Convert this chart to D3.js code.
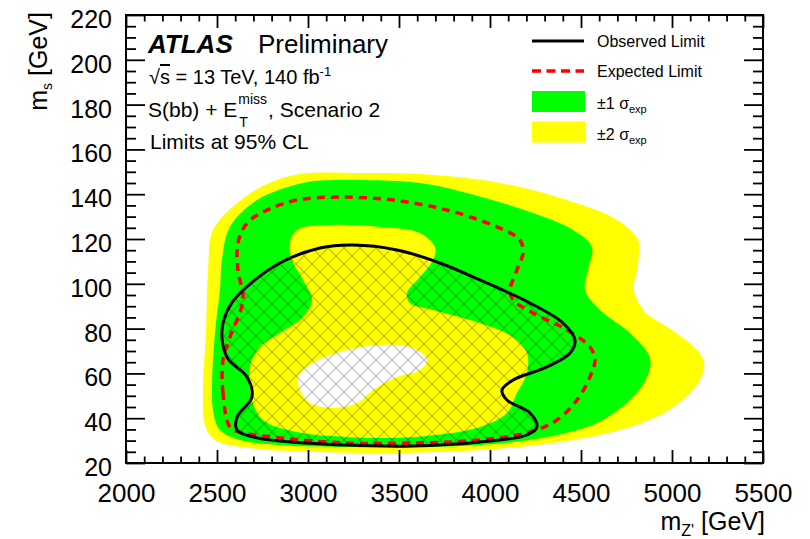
<!DOCTYPE html>
<html lang="en">
  <head>
    <meta charset="utf-8">
    <script src="https://d3js.org/d3.v7.min.js"></script>
    <title>S(bb) + MET limits, Scenario 2</title>
    <style>
      body {
        margin: 0;
        background-color: #ffffff;
      }
      svg {
        display: block;
        font-family: "Liberation Sans", Arial, Helvetica, sans-serif;
      }
      .axis line {
        stroke: #000;
        stroke-width: 1.8;
      }
      .axis text {
        fill: #000;
      }
    </style>
  </head>
  <body>
    <div class="chartHolder"></div>
    <script>
      // contours, [mZ' GeV, mS GeV]
      const band2Outer = [
        [2955, 149], [3285, 149.5], [3615, 149], [4055, 145], [4423, 137.4], [4698, 128.5],
        [4813, 119.5], [4813, 108.4], [4791, 97.2], [4852, 87.4], [5000, 79.4], [5126, 71.3],
        [5176, 65.1], [5154, 57], [5071, 49], [4934, 41.4], [4714, 34.7], [4385, 29.4],
        [3945, 25.8], [3505, 24.5], [3066, 24.9], [2681, 26.7], [2489, 30.3], [2434, 37],
        [2423, 52.6], [2440, 79.4], [2451, 106.2], [2478, 124], [2599, 135.2], [2764, 144.1]
      ];
      const band1Outer = [
        [2973, 145], [3176, 146.3], [3615, 145], [3874, 140.5], [4236, 131.6], [4456, 124],
        [4560, 116.4], [4538, 106.2], [4522, 97.2], [4604, 88.3], [4769, 78], [4879, 66.9],
        [4863, 58.4], [4769, 48.1], [4588, 37.9], [4313, 31.6], [3945, 28], [3577, 27.1],
        [3214, 27.1], [2846, 28], [2626, 30.3], [2516, 34.7], [2478, 43.7], [2473, 55.7],
        [2489, 78], [2516, 97.2], [2527, 110.6], [2571, 125.4], [2720, 137.4]
      ];
      const band1Inner = [
        [2901, 118.2], [2940, 124], [3121, 126.2], [3396, 125.4], [3615, 122.7], [3698, 116.4],
        [3687, 110.6], [3615, 103], [3544, 95.9], [3560, 91.4], [3687, 88.3], [3945, 82.5],
        [4126, 76.2], [4203, 69.1], [4203, 60.2], [4148, 51.2], [4093, 42.3], [3945, 36.1],
        [3577, 31.6], [3214, 31.6], [2940, 33.8], [2753, 39.2], [2692, 48.1], [2681, 62.9],
        [2736, 71.8], [2846, 78], [2973, 85.2], [3022, 92.8], [2973, 101.7], [2912, 110.6]
      ];
      const band2Inner = [
        [2956, 52.6], [2945, 58.4], [3027, 64.6], [3214, 70.4], [3396, 72.7], [3577, 71.3],
        [3654, 66], [3615, 61.5], [3489, 58.4], [3357, 52.6], [3269, 46.8], [3137, 44.6],
        [3011, 46.8]
      ];
      const expectedLimit = [
        [2571, 36.1], [2533, 51.2], [2533, 66], [2571, 76.2], [2643, 92.8], [2615, 106.2],
        [2615, 118.2], [2665, 127.1], [2775, 132.9], [2940, 137.4], [3176, 138.7], [3467, 137.4],
        [3764, 132.9], [4038, 125.4], [4165, 119.5], [4181, 113.7], [4148, 106.2], [4110, 97.2],
        [4126, 92.8], [4236, 87], [4423, 79.4], [4549, 71.8], [4577, 66], [4549, 58.4],
        [4478, 48.1], [4368, 39.2], [4220, 33.8], [3945, 30.3], [3577, 28.9], [3214, 28.9],
        [2846, 31.2], [2626, 33.8]
      ];
      const observedLimit = [
        [2527, 76], [2538, 84], [2590, 92.5], [2681, 99.9], [2846, 109.3], [3066, 116],
        [3247, 117.3], [3489, 115.1], [3725, 109.3], [3945, 101.7], [4220, 91.4], [4401, 82.5],
        [4467, 74.9], [4440, 69.1], [4313, 62.9], [4126, 57], [4066, 52.6], [4093, 48.1],
        [4220, 42.3], [4258, 36.1], [4203, 32.5], [3945, 29.4], [3577, 27.6], [3214, 28],
        [2846, 29.8], [2720, 31.2], [2610, 34.7], [2610, 40.5], [2692, 49.5], [2665, 58.4],
        [2560, 66.5]
      ];

      const xTicks = [2000, 2500, 3000, 3500, 4000, 4500, 5000, 5500];
      const yTicks = [20, 40, 60, 80, 100, 120, 140, 160, 180, 200, 220];
      const xMinorTicks = d3.range(2000, 5501, 100).filter((v) => v % 500 !== 0);
      const yMinorTicks = d3.range(20, 221, 5).filter((v) => v % 20 !== 0);

      const svgSize = {'width': 810, 'height': 539};
      const frame = {'left': 126, 'right': 763, 'top': 15, 'bottom': 463};

      let svg = d3.select('.chartHolder')
        .append('svg')
        .attr('width', svgSize.width)
        .attr('height', svgSize.height);

      let xScale = d3.scaleLinear()
        .domain([2000, 5500])
        .range([frame.left, frame.right]);
      let yScale = d3.scaleLinear()
        .domain([20, 220])
        .range([frame.bottom, frame.top]);

      const contour = d3.line()
        .x((d) => xScale(d[0]))
        .y((d) => yScale(d[1]))
        .curve(d3.curveCatmullRomClosed.alpha(0.5));

      let defs = svg.append('defs');
      let hatch = defs.append('pattern')
        .attr('id', 'hatch')
        .attr('patternUnits', 'userSpaceOnUse')
        .attr('width', 16)
        .attr('height', 16);
      hatch.append('path')
        .attr('d', 'M-2,-2 L18,18 M18,-2 L-2,18')
        .attr('stroke', 'rgba(0,0,0,0.26)')
        .attr('stroke-width', 1.2)
        .attr('fill', 'none');
      defs.append('clipPath')
        .attr('id', 'obsClip')
        .append('path')
        .attr('d', contour(observedLimit));

      // bands
      svg.append('path').attr('d', contour(band2Outer)).attr('fill', '#ffff00');
      svg.append('path').attr('d', contour(band1Outer)).attr('fill', '#00ff00');
      svg.append('path').attr('d', contour(band1Inner)).attr('fill', '#ffff00');
      svg.append('path').attr('d', contour(band2Inner)).attr('fill', '#ffffff');

      // excluded region hatching
      svg.append('rect')
        .attr('x', frame.left)
        .attr('y', frame.top)
        .attr('width', frame.right - frame.left)
        .attr('height', frame.bottom - frame.top)
        .attr('fill', 'url(#hatch)')
        .attr('clip-path', 'url(#obsClip)');

      svg.append('path')
        .attr('d', contour(expectedLimit))
        .attr('fill', 'none')
        .attr('stroke', '#ff0000')
        .attr('stroke-width', 3.5)
        .attr('stroke-dasharray', '8,6');
      svg.append('path')
        .attr('d', contour(observedLimit))
        .attr('fill', 'none')
        .attr('stroke', '#000')
        .attr('stroke-width', 3);

      // axes, ticks pointing inwards
      function drawAxis(axis, tx, ty, fontSize) {
        let g = svg.append('g')
          .attr('class', 'axis')
          .attr('transform', 'translate(' + tx + ',' + ty + ')')
          .call(axis);
        g.select('.domain').remove();
        g.attr('font-size', fontSize).attr('font-family', null);
        return g;
      }

      drawAxis(d3.axisBottom(xScale).tickValues(xTicks).tickSize(-13).tickPadding(21)
        .tickFormat(d3.format('d')), 0, frame.bottom, 26);
      drawAxis(d3.axisBottom(xScale).tickValues(xMinorTicks).tickSize(-6.5).tickFormat(''), 0, frame.bottom, 10);
      drawAxis(d3.axisTop(xScale).tickValues(xTicks).tickSize(-13).tickFormat(''), 0, frame.top, 10);
      drawAxis(d3.axisTop(xScale).tickValues(xMinorTicks).tickSize(-6.5).tickFormat(''), 0, frame.top, 10);

      let yAxisG = drawAxis(d3.axisLeft(yScale).tickValues(yTicks).tickSize(-19).tickPadding(14)
        .tickFormat(d3.format('d')), frame.left, 0, 25);
      yAxisG.selectAll('text').attr('dy', '0.5em');
      drawAxis(d3.axisLeft(yScale).tickValues(yMinorTicks).tickSize(-10).tickFormat(''), frame.left, 0, 10);
      drawAxis(d3.axisRight(yScale).tickValues(yTicks).tickSize(-19).tickFormat(''), frame.right, 0, 10);
      drawAxis(d3.axisRight(yScale).tickValues(yMinorTicks).tickSize(-10).tickFormat(''), frame.right, 0, 10);

      svg.append('rect')
        .attr('x', frame.left)
        .attr('y', frame.top)
        .attr('width', frame.right - frame.left)
        .attr('height', frame.bottom - frame.top)
        .attr('fill', 'none')
        .attr('stroke', '#000')
        .attr('stroke-width', 2);

      // axis titles
      let xTitle = svg.append('text')
        .attr('x', 765)
        .attr('y', 530)
        .attr('text-anchor', 'end')
        .attr('font-size', 25);
      xTitle.append('tspan').text('m');
      xTitle.append('tspan').attr('font-size', 16).attr('dy', 6).text('Z\'');
      xTitle.append('tspan').attr('dy', -6).text(' [GeV]');

      let yTitle = svg.append('text')
        .attr('transform', 'translate(47,12) rotate(-90)')
        .attr('text-anchor', 'end')
        .attr('font-size', 25);
      yTitle.append('tspan').text('m');
      yTitle.append('tspan').attr('font-size', 14).attr('dy', 5).text('s');
      yTitle.append('tspan').attr('dy', -5).text(' [GeV]');

      // labels in the top left
      svg.append('text')
        .attr('x', 148).attr('y', 53)
        .attr('font-size', 26)
        .attr('font-weight', 'bold')
        .attr('font-style', 'italic')
        .text('ATLAS');
      svg.append('text')
        .attr('x', 258).attr('y', 53)
        .attr('font-size', 26)
        .text('Preliminary');

      let lumi = svg.append('text')
        .attr('x', 149).attr('y', 84)
        .attr('font-size', 20);
      lumi.append('tspan').text('\u221A');
      lumi.append('tspan').style('text-decoration', 'overline').text('s');
      lumi.append('tspan').text(' = 13 TeV, 140 fb');
      lumi.append('tspan').attr('font-size', 13).attr('dy', -8).text('-1');

      let procA = svg.append('text')
        .attr('x', 148).attr('y', 117)
        .attr('font-size', 21)
        .text('S(bb) + E');
      let wA = procA.node().getComputedTextLength();
      let sup = svg.append('text')
        .attr('x', 149 + wA).attr('y', 104)
        .attr('font-size', 14)
        .text('miss');
      svg.append('text')
        .attr('x', 150 + wA).attr('y', 127)
        .attr('font-size', 14)
        .text('T');
      svg.append('text')
        .attr('x', 150 + wA + sup.node().getComputedTextLength())
        .attr('y', 117)
        .attr('font-size', 21)
        .text(', Scenario 2');

      svg.append('text')
        .attr('x', 150).attr('y', 149)
        .attr('font-size', 21)
        .text('Limits at 95% CL');

      // legend
      const legendX = 532;
      svg.append('line')
        .attr('x1', legendX).attr('x2', legendX + 52)
        .attr('y1', 41).attr('y2', 41)
        .attr('stroke', '#000').attr('stroke-width', 3);
      svg.append('line')
        .attr('x1', legendX).attr('x2', legendX + 52)
        .attr('y1', 71).attr('y2', 71)
        .attr('stroke', '#ff0000').attr('stroke-width', 3.5)
        .attr('stroke-dasharray', '9,5.5');
      svg.append('rect')
        .attr('x', legendX).attr('y', 91)
        .attr('width', 53).attr('height', 21)
        .attr('fill', '#00ff00');
      svg.append('rect')
        .attr('x', legendX).attr('y', 121.5)
        .attr('width', 53).attr('height', 21)
        .attr('fill', '#ffff00');

      svg.append('text').attr('x', 597).attr('y', 47).attr('font-size', 16).text('Observed Limit');
      svg.append('text').attr('x', 597).attr('y', 77).attr('font-size', 16).text('Expected Limit');
      [['\u00B11 \u03C3', 109], ['\u00B12 \u03C3', 140]].forEach((d) => {
        let t = svg.append('text').attr('x', 597).attr('y', d[1]).attr('font-size', 16);
        t.append('tspan').text(d[0]);
        t.append('tspan').attr('font-size', 11).attr('dy', 4).text('exp');
      });
    </script>
  </body>
</html>
